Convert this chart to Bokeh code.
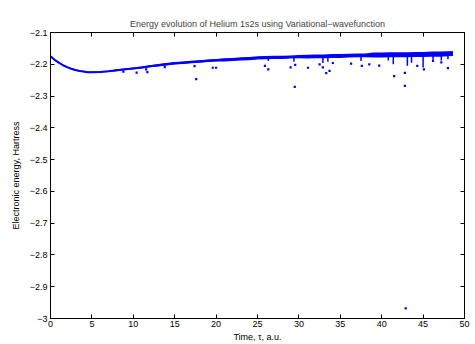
from bokeh.plotting import figure
from bokeh.models import Range1d, LinearAxis, FixedTicker, CustomJSTickFormatter
from bokeh.embed import file_html
from bokeh.resources import INLINE

# ---- data ----
t_band = [0, 0.5, 1, 1.5, 2, 2.5, 3, 3.5, 4, 4.5, 5, 6, 7, 8, 9, 10, 11, 12, 13, 14,
          15, 16, 17, 18, 19, 20, 21, 22, 23, 24, 25, 26, 27, 28, 29, 30, 31, 32, 33,
          34, 35, 36, 37, 38, 39, 40, 41, 42, 43, 44, 45, 46, 47, 48, 48.6]
e_mid = [-2.175, -2.186, -2.195, -2.203, -2.209, -2.214, -2.218, -2.221, -2.223, -2.225,
         -2.225, -2.224, -2.222, -2.219, -2.216, -2.213, -2.210, -2.206, -2.203, -2.200,
         -2.197, -2.195, -2.193, -2.191, -2.189, -2.187, -2.186, -2.185, -2.183, -2.182,
         -2.180, -2.179, -2.178, -2.178, -2.177, -2.176, -2.176, -2.175, -2.175, -2.174,
         -2.174, -2.173, -2.172, -2.172, -2.171, -2.171, -2.170, -2.170, -2.170, -2.169,
         -2.169, -2.168, -2.168, -2.167, -2.166]
e_half = [0.002, 0.002, 0.002, 0.002, 0.002, 0.002, 0.002, 0.002, 0.002, 0.002,
          0.002, 0.002, 0.002, 0.003, 0.003, 0.003, 0.003, 0.003, 0.004, 0.004,
          0.004, 0.004, 0.004, 0.004, 0.004, 0.004, 0.005, 0.005, 0.005, 0.005,
          0.005, 0.005, 0.005, 0.005, 0.005, 0.005, 0.006, 0.006, 0.006, 0.006,
          0.006, 0.006, 0.006, 0.006, 0.008, 0.008, 0.008, 0.008, 0.008, 0.008,
          0.008, 0.008, 0.008, 0.008, 0.008]

spike_t = [26.3, 29.4, 32.9, 33.5, 37.5, 40.8, 41.4, 43.1, 43.6, 45.0, 46.2, 47.2, 48.0]
spike_top = [-2.179, -2.177, -2.175, -2.175, -2.172, -2.171, -2.170, -2.170, -2.170,
             -2.169, -2.168, -2.168, -2.167]
spike_low = [-2.190, -2.192, -2.196, -2.192, -2.190, -2.188, -2.200, -2.205, -2.195,
             -2.210, -2.186, -2.188, -2.184]

out_t = [8.8, 10.4, 11.55, 11.7, 13.8, 17.4, 17.6, 19.6, 20.0, 25.9, 26.3, 29.0, 29.5,
         29.55, 31.1, 32.5, 32.9, 33.3, 33.7, 34.1, 36.3, 37.6, 38.5, 39.7, 41.5, 42.8,
         42.8, 42.9, 44.3, 45.1, 46.2, 47.2, 48.0]
out_e = [-2.223, -2.226, -2.216, -2.225, -2.209, -2.206, -2.247, -2.211, -2.211, -2.205,
         -2.216, -2.210, -2.271, -2.202, -2.211, -2.200, -2.210, -2.228, -2.221, -2.196,
         -2.198, -2.205, -2.200, -2.204, -2.237, -2.268, -2.227, -2.968, -2.205, -2.216,
         -2.189, -2.194, -2.212]

x_ticks = [0, 5, 10, 15, 20, 25, 30, 35, 40, 45, 50]
y_ticks = [-3.0, -2.9, -2.8, -2.7, -2.6, -2.5, -2.4, -2.3, -2.2, -2.1]
y_tick_labels = ["\u22123", "\u22122.9", "\u22122.8", "\u22122.7", "\u22122.6",
                 "\u22122.5", "\u22122.4", "\u22122.3", "\u22122.2", "\u22122.1"]

FONT = "Liberation Sans"
BLUE = "#0000ff"

p = figure(width=475, height=344, output_backend="svg", toolbar_location=None,
           x_range=Range1d(0, 50), y_range=Range1d(-3.0, -2.1),
           title="Energy evolution of Helium 1s2s using Variational\u2212wavefunction",
           min_border_left=50, min_border_right=11, min_border_top=32, min_border_bottom=26)

p.title.align = "center"
p.title.text_font = FONT
p.title.text_font_size = "9px"
p.title.text_font_style = "normal"
p.title.standoff = 8

p.xgrid.visible = False
p.ygrid.visible = False
p.outline_line_color = "black"
p.outline_line_width = 1
p.background_fill_color = "white"
p.border_fill_color = "white"

upper = [m + h for m, h in zip(e_mid, e_half)]
lower = [m - h for m, h in zip(e_mid, e_half)]
p.varea(x=t_band, y1=lower, y2=upper, fill_color=BLUE)
p.line(t_band, e_mid, line_color=BLUE, line_width=2)
p.segment(x0=spike_t, y0=spike_top, x1=spike_t, y1=spike_low, line_color=BLUE, line_width=1.5)
p.scatter(out_t, out_e, marker="square", size=2.2, fill_color=BLUE, line_color=None)

xa = p.xaxis[0]
xa.ticker = FixedTicker(ticks=x_ticks)
ya = p.yaxis[0]
ya.ticker = FixedTicker(ticks=y_ticks)
ya.major_label_overrides = {t: l for t, l in zip(y_ticks, y_tick_labels)}
xa.axis_label = "Time, \u03c4, a.u."
ya.axis_label = "Electronic energy, Hartress"

for ax in (xa, ya):
    ax.minor_tick_line_color = None
    ax.major_tick_in = 4
    ax.major_tick_out = 0
    ax.axis_line_color = "black"
    ax.major_tick_line_color = "black"
    ax.major_label_text_font = FONT
    ax.major_label_text_font_size = "9px"
    ax.major_label_text_color = "black"
    ax.axis_label_text_font = FONT
    ax.axis_label_text_font_size = "9px"
    ax.axis_label_text_font_style = "normal"
    ax.axis_label_text_color = "black"
    ax.major_label_standoff = 3
    ax.axis_label_standoff = 2

xa.major_label_standoff = 2
ya.axis_label_standoff = 6

top = LinearAxis(ticker=FixedTicker(ticks=x_ticks),
                 formatter=CustomJSTickFormatter(code="return ''"))
right = LinearAxis(ticker=FixedTicker(ticks=y_ticks),
                   formatter=CustomJSTickFormatter(code="return ''"))
for ax in (top, right):
    ax.minor_tick_line_color = None
    ax.major_tick_in = 4
    ax.major_tick_out = 0
    ax.major_label_standoff = 0
    ax.major_label_text_font_size = "1px"
    ax.axis_line_color = "black"
p.add_layout(top, "above")
p.add_layout(right, "right")

open("out.html", "w").write(file_html(p, INLINE))
